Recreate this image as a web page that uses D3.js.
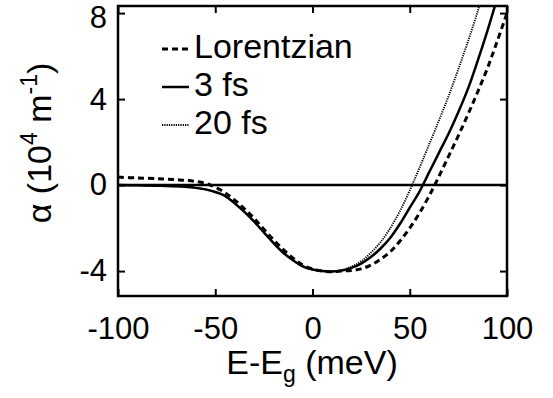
<!DOCTYPE html>
<html>
<head>
<meta charset="utf-8">
<script src="https://cdn.jsdelivr.net/npm/d3@7"></script>
<style>
	body { margin: 0; background: #fff; }
	text { font-family: "Liberation Sans", Arial, sans-serif; fill: #000; }
</style>
</head>
<body>
<div id="chart"></div>
<script>
// energy grid (meV) and absorption values (10^4 m^-1)
var energy3 = [-100, -90, -80, -70, -60, -55, -50, -45, -40, -35, -30, -25, -20, -15, -10, -5, 0, 5, 10, 15, 20, 25, 30, 35, 40, 45, 50, 55, 60, 65, 70, 75, 80, 85, 90, 95];
var alpha3 = [0, -0.01, -0.03, -0.06, -0.13, -0.2, -0.32, -0.5, -0.85, -1.25, -1.7, -2.2, -2.7, -3.15, -3.5, -3.78, -3.93, -4.0, -4.02, -3.98, -3.85, -3.65, -3.35, -2.95, -2.45, -1.8, -1.05, -0.3, 0.6, 1.5, 2.4, 3.4, 4.5, 5.8, 7.2, 8.7];

var energy20 = [-100, -90, -80, -70, -60, -55, -50, -45, -40, -35, -30, -25, -20, -15, -10, -5, 0, 5, 10, 15, 20, 25, 30, 35, 40, 45, 50, 55, 60, 65, 70, 75, 80, 85, 88];
var alpha20 = [0, -0.01, -0.03, -0.06, -0.13, -0.2, -0.32, -0.5, -0.85, -1.25, -1.7, -2.2, -2.7, -3.15, -3.5, -3.78, -3.93, -4.0, -4.02, -3.95, -3.8, -3.55, -3.15, -2.65, -2.0, -1.2, -0.25, 0.8, 1.9, 3.0, 4.15, 5.4, 6.7, 8.1, 9.0];

var energyL = [-100, -90, -80, -75, -70, -65, -60, -55, -50, -45, -40, -35, -30, -25, -20, -15, -10, -5, 0, 5, 10, 15, 20, 25, 30, 35, 40, 45, 50, 55, 60, 65, 70, 75, 80, 85, 90, 95, 100];
var alphaL = [0.37, 0.33, 0.3, 0.28, 0.25, 0.22, 0.17, 0.08, -0.1, -0.35, -0.7, -1.1, -1.55, -2.05, -2.55, -3.0, -3.4, -3.72, -3.9, -4.0, -4.03, -4.0, -3.97, -3.9, -3.72, -3.45, -3.1, -2.6, -2.0, -1.3, -0.5, 0.4, 1.35, 2.3, 3.3, 4.35, 5.45, 6.7, 8.0];

var xTicks = [-100, -50, 0, 50, 100];
var yTicks = [-4, 0, 4, 8];
var legendLabels = ["Lorentzian", "3 fs", "20 fs"];

var width = 553,
	height = 398,
	plotLeft = 118,
	plotRight = 507,
	plotTop = 6,
	plotBottom = 296;

var svg = d3.select("#chart")
	.append("svg")
	.attr("width", width)
	.attr("height", height);

var x = d3.scaleLinear().domain([-100, 100]).range([plotLeft, plotRight]);
var y = d3.scaleLinear().domain([-5.16, 8.33]).range([plotBottom, plotTop]);

svg.append("clipPath")
	.attr("id", "plotClip")
	.append("rect")
	.attr("x", plotLeft)
	.attr("y", plotTop)
	.attr("width", plotRight - plotLeft)
	.attr("height", plotBottom - plotTop);

var plain = function(d) { return String(d); };

// axes with inward ticks on all four sides
svg.append("g")
	.attr("transform", "translate(0," + plotBottom + ")")
	.call(d3.axisBottom(x).tickValues(xTicks).tickSize(-7).tickPadding(21).tickFormat(plain));
svg.append("g")
	.attr("transform", "translate(0," + plotTop + ")")
	.call(d3.axisTop(x).tickValues(xTicks).tickSize(-7).tickFormat(""));
var yAxisLeft = svg.append("g")
	.attr("transform", "translate(" + plotLeft + ",0)")
	.call(d3.axisLeft(y).tickValues(yTicks).tickSize(-7).tickPadding(11).tickFormat(plain));
svg.append("g")
	.attr("transform", "translate(" + plotRight + ",0)")
	.call(d3.axisRight(y).tickValues(yTicks).tickSize(-7).tickFormat(""));

svg.selectAll(".domain").remove();
svg.selectAll(".tick line").attr("stroke", "#000").attr("stroke-width", 2);
svg.selectAll(".tick text")
	.style("font-size", "31px")
	.style("font-family", "'Liberation Sans', Arial, sans-serif")
	.attr("fill", "#000");

// top label sits a little lower so it stays inside the page
yAxisLeft.selectAll(".tick text")
	.filter(function(d) { return d === 8; })
	.attr("y", 4);

// zero line
svg.append("line")
	.attr("x1", plotLeft).attr("x2", plotRight)
	.attr("y1", y(0)).attr("y2", y(0))
	.attr("stroke", "#000")
	.attr("stroke-width", 2.5);

var line = d3.line()
	.x(function(d) { return x(d[0]); })
	.y(function(d) { return y(d[1]); })
	.curve(d3.curveCatmullRom.alpha(0.5));

var curves = svg.append("g").attr("clip-path", "url(#plotClip)");

curves.append("path")
	.datum(d3.zip(energyL, alphaL))
	.attr("d", line)
	.attr("fill", "none")
	.attr("stroke", "#000")
	.attr("stroke-width", 3)
	.attr("stroke-dasharray", "6,4");

curves.append("path")
	.datum(d3.zip(energy20, alpha20))
	.attr("d", line)
	.attr("fill", "none")
	.attr("stroke", "#000")
	.attr("stroke-width", 1.9)
	.attr("stroke-dasharray", "1.2,1.1");

curves.append("path")
	.datum(d3.zip(energy3, alpha3))
	.attr("d", line)
	.attr("fill", "none")
	.attr("stroke", "#000")
	.attr("stroke-width", 2.5);

// frame
svg.append("rect")
	.attr("x", plotLeft)
	.attr("y", plotTop)
	.attr("width", plotRight - plotLeft)
	.attr("height", plotBottom - plotTop)
	.attr("fill", "none")
	.attr("stroke", "#000")
	.attr("stroke-width", 2.5);

// legend
var legendStyles = [
	{ dash: "6,4", w: 3 },
	{ dash: null, w: 2.5 },
	{ dash: "1.2,1.1", w: 1.9 }
];
var legend = svg.append("g");
legendLabels.forEach(function(label, i) {
	var ly = 49 + i * 38;
	legend.append("line")
		.attr("x1", 162).attr("x2", 189)
		.attr("y1", ly).attr("y2", ly)
		.attr("stroke", "#000")
		.attr("stroke-width", legendStyles[i].w)
		.attr("stroke-dasharray", legendStyles[i].dash);
	legend.append("text")
		.attr("x", 194)
		.attr("y", ly + 9)
		.style("font-size", "34px")
		.text(label);
});

// axis titles
var xTitle = svg.append("text")
	.attr("x", 312)
	.attr("y", 374)
	.attr("text-anchor", "middle")
	.style("font-size", "34px");
xTitle.append("tspan").text("E-E");
xTitle.append("tspan").attr("dy", 8).style("font-size", "23px").text("g");
xTitle.append("tspan").attr("dy", -8).text(" (meV)");

var yTitle = svg.append("text")
	.attr("transform", "translate(51,143) rotate(-90)")
	.attr("text-anchor", "middle")
	.style("font-size", "34px");
yTitle.append("tspan").text("\u03b1 (10");
yTitle.append("tspan").attr("dy", -14).style("font-size", "23px").text("4");
yTitle.append("tspan").attr("dy", 14).text(" m");
yTitle.append("tspan").attr("dy", -14).style("font-size", "23px").text("-1");
yTitle.append("tspan").attr("dy", 14).text(")");
</script>
</body>
</html>
